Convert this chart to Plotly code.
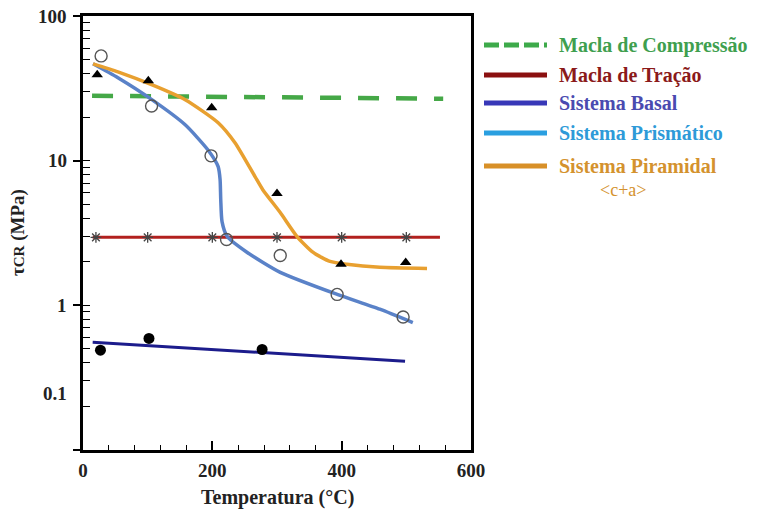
import math
import plotly.graph_objects as go

# ---------------- data ----------------
comp_x = [14, 557]
comp_y = [28.1, 26.8]

trac_x = [15, 552]
trac_y = [2.95, 2.95]
trac_pts_x = [20, 100, 200, 300, 400, 500]
trac_pts_y = [2.95, 2.95, 2.95, 2.95, 2.95, 2.95]

basal_x = [15, 498]
basal_y = [0.556, 0.41]
basal_pts_x = [27, 102, 277]
basal_pts_y = [0.49, 0.59, 0.495]

prism_x = [15.5, 54, 107, 158, 193, 209, 212, 213, 215, 223, 254, 305, 393, 459, 510]
prism_y = [46.7, 37.4, 26.3, 17.7, 11.9, 9.1, 7.4, 5.39, 3.79, 2.99, 2.32, 1.69, 1.19, 0.94, 0.76]
prism_pts_x = [28, 106, 198, 222, 305, 393, 495]
prism_pts_y = [53, 23.9, 10.8, 2.85, 2.21, 1.19, 0.83]

pir_x = [15.5, 54, 107, 158, 209, 235, 266, 278, 305, 331, 356, 382, 408, 459, 532]
pir_y = [46.7, 41.1, 33.4, 26.4, 18.3, 13.3, 7.76, 6.3, 4.38, 2.99, 2.32, 2.01, 1.92, 1.83, 1.80]
pir_pts_x = [22, 101, 199, 300, 399, 499]
pir_pts_y = [39.3, 35.7, 23.2, 5.92, 1.92, 1.98]

x_ticks = [0, 200, 400, 600]
x_labels = ["0", "200", "400", "600"]
y_major = [0.1, 1, 10, 100]
y_label_pos = [0.245, 1, 10, 100]
y_labels = ["0.1", "1", "10", "100"]
y_minor = [m * d for d in (0.1, 1, 10) for m in range(1, 11)]

legend_names = ["Macla de Compressão", "Macla de Tração", "Sistema Basal",
                "Sistema Prismático", "Sistema Piramidal"]
legend_line_colors = ["#3DAA4A", "#8B1010", "#3838B8", "#2A9FE0", "#D89028"]
legend_text_colors = ["#3F9F4F", "#8B1A1A", "#4A4AB0", "#2E9AD8", "#D4922E"]

# ---------------- figure ----------------
FONT = "Liberation Serif"
L, R, T, B = 83, 286, 16, 63
W, H = 757, 513
PW, PH = W - L - R, H - T - B

def px_x(px):
    return (px - L) / PW

def px_y(py):
    return (H - B - py) / PH

fig = go.Figure()

fig.add_trace(go.Scatter(x=comp_x, y=comp_y, mode="lines",
                         line=dict(color="#45A847", width=4.5, dash="21px,17px")))
fig.add_trace(go.Scatter(x=trac_x, y=trac_y, mode="lines",
                         line=dict(color="#B2201E", width=3)))
fig.add_trace(go.Scatter(x=basal_x, y=basal_y, mode="lines",
                         line=dict(color="#1C1C8C", width=3)))
fig.add_trace(go.Scatter(x=prism_x, y=prism_y, mode="lines",
                         line=dict(color="#5A82C8", width=3.5, shape="spline", smoothing=0.6)))
fig.add_trace(go.Scatter(x=pir_x, y=pir_y, mode="lines",
                         line=dict(color="#E8A030", width=3.5, shape="spline", smoothing=0.6)))

fig.add_trace(go.Scatter(x=trac_pts_x, y=trac_pts_y, mode="markers",
                         marker=dict(symbol="asterisk-open", size=9, color="#444",
                                     line=dict(color="#444", width=1.3))))
fig.add_trace(go.Scatter(x=basal_pts_x, y=basal_pts_y, mode="markers",
                         marker=dict(symbol="circle", size=11, color="black")))
fig.add_trace(go.Scatter(x=prism_pts_x, y=prism_pts_y, mode="markers",
                         marker=dict(symbol="circle-open", size=12, color="#555",
                                     line=dict(color="#555", width=1.4))))
fig.add_trace(go.Scatter(x=pir_pts_x, y=pir_pts_y, mode="markers",
                         marker=dict(symbol="triangle-up", size=10, color="black")))

# invisible trace for the minor-tick axis
fig.add_trace(go.Scatter(x=[0], y=[1], yaxis="y2", mode="markers",
                         marker=dict(opacity=0), hoverinfo="skip"))

tickfont = dict(family=FONT, size=19, color="#222")

fig.update_layout(
    width=W, height=H,
    margin=dict(l=L, r=R, t=T, b=B),
    paper_bgcolor="white", plot_bgcolor="white",
    showlegend=False,
    xaxis=dict(range=[0, 600], tickvals=x_ticks,
               ticktext=[f"<b>{t}</b>" for t in x_labels],
               ticks="inside", ticklen=9,
               tickwidth=1.6, tickcolor="black", showline=True, linewidth=2.5,
               linecolor="black", mirror=True, showgrid=False, zeroline=False,
               tickfont=tickfont, ticklabelstandoff=1,
               minor=dict(dtick=40, tick0=0, ticks="inside", ticklen=5,
                          tickwidth=1.2, tickcolor="black")),
    yaxis=dict(type="log", range=[-1, 2], tickvals=y_major, ticktext=[""] * 4,
               ticks="outside", ticklen=7, tickwidth=1.6, tickcolor="black",
               showline=True, linewidth=2.5, linecolor="black", mirror=True,
               showgrid=False, zeroline=False, tickfont=tickfont),
    yaxis2=dict(type="log", range=[-1, 2], overlaying="y", side="left",
                tickvals=y_minor, ticks="inside", ticklen=7, tickwidth=1.2,
                tickcolor="black", showticklabels=False, showgrid=False,
                showline=False, zeroline=False),
)

# y tick labels (placed as drawn in the source)
for pos, lab in zip(y_label_pos, y_labels):
    fig.add_annotation(x=px_x(69), y=math.log10(pos), xref="paper", yref="y",
                       text=f"<b>{lab}</b>", showarrow=False, xanchor="right",
                       yanchor="middle", font=tickfont)

# axis titles
fig.add_annotation(x=0.5, y=px_y(497), xref="paper", yref="paper",
                   text="<b>Temperatura (°C)</b>", showarrow=False,
                   xanchor="center", yanchor="middle",
                   font=dict(family=FONT, size=20, color="#222"))
fig.add_annotation(x=px_x(18), y=px_y(233), xref="paper", yref="paper",
                   text="<b>τ<span style='font-size:15px'>CR</span> (MPa)</b>",
                   showarrow=False, textangle=-90, xanchor="center", yanchor="middle",
                   font=dict(family=FONT, size=19, color="#222"))

# legend drawn manually
rows = [45, 75, 103, 133, 166]
for i, (name, lc, tc, py) in enumerate(zip(legend_names, legend_line_colors,
                                           legend_text_colors, rows)):
    fig.add_shape(type="line", xref="paper", yref="paper",
                  x0=px_x(484), x1=px_x(547), y0=px_y(py), y1=px_y(py),
                  line=dict(color=lc, width=5, dash="15px,5px" if i == 0 else "solid"))
    fig.add_annotation(x=px_x(557), y=px_y(py), xref="paper", yref="paper",
                       text=f"<b>{name}</b>", showarrow=False, xanchor="left",
                       yanchor="middle", font=dict(family=FONT, size=20, color=tc))
fig.add_annotation(x=px_x(623), y=px_y(190), xref="paper", yref="paper",
                   text="&lt;c+a&gt;", showarrow=False, xanchor="center",
                   yanchor="middle", font=dict(family=FONT, size=18, color="#D4922E"))

fig.write_html("out.html")
